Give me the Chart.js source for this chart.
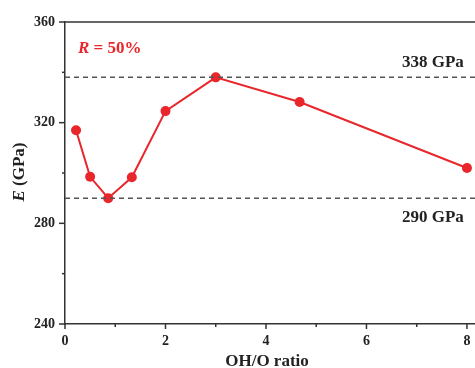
<!DOCTYPE html>
<html>
<head>
<meta charset="utf-8">
<script src="https://cdn.jsdelivr.net/npm/chart.js@4"></script>
<style>
html,body{margin:0;padding:0;background:#fff;}
#wrap{width:475px;height:368px;}
</style>
</head>
<body>
<div id="wrap"><canvas id="c" width="475" height="368"></canvas></div>
<script>
const ratios = [0.22, 0.5, 0.86, 1.33, 2, 3, 4.67, 8];
const modulus = [317, 298.5, 290, 298.3, 324.6, 338, 328.2, 302];
const refValues = [338, 290];
const refLabels = ['338 GPa', '290 GPa'];
const xMin = 0, xMax = 8.16, yMin = 240, yMax = 360;

const RED = '#e8262b';
const AXIS = '#333333';
const FONT = '"Liberation Serif", "Times New Roman", serif';

const mainData = ratios.map((x, i) => ({x: x, y: modulus[i]}));
const refSets = refValues.map(v => ({
  data: [{x: xMin, y: v}, {x: xMax, y: v}],
  borderColor: '#555555',
  borderWidth: 1.5,
  borderDash: [5, 4],
  pointRadius: 0,
  fill: false
}));

const decor = {
  id: 'decor',
  afterDraw(chart) {
    const ctx = chart.ctx;
    const a = chart.chartArea;
    const xs = chart.scales.x, ys = chart.scales.y;
    ctx.save();
    ctx.strokeStyle = AXIS;
    ctx.lineWidth = 1.5;
    // top frame
    ctx.beginPath();
    ctx.moveTo(a.left, a.top);
    ctx.lineTo(chart.width, a.top);
    ctx.stroke();
    // x ticks
    xs.ticks.forEach(t => {
      const px = xs.getPixelForValue(t.value);
      const len = (Math.round(t.value) % 2 === 0) ? 5 : 3;
      ctx.beginPath();
      ctx.moveTo(px, a.bottom);
      ctx.lineTo(px, a.bottom + len);
      ctx.stroke();
    });
    // y ticks
    ys.ticks.forEach(t => {
      const py = ys.getPixelForValue(t.value);
      const len = (Math.round(t.value) % 40 === 0) ? 6 : 3;
      ctx.beginPath();
      ctx.moveTo(a.left - len, py);
      ctx.lineTo(a.left, py);
      ctx.stroke();
    });
    // reference labels
    ctx.fillStyle = '#222';
    ctx.font = 'bold 17px ' + FONT;
    ctx.textAlign = 'left';
    ctx.textBaseline = 'alphabetic';
    ctx.fillText(refLabels[0], 402, ys.getPixelForValue(refValues[0]) - 10);
    ctx.fillText(refLabels[1], 402, ys.getPixelForValue(refValues[1]) + 24);
    // R = 50%
    ctx.fillStyle = RED;
    ctx.font = 'italic bold 17px ' + FONT;
    ctx.fillText('R', 78, 53);
    let w = ctx.measureText('R').width;
    ctx.font = 'bold 17px ' + FONT;
    ctx.fillText(' = 50%', 78 + w, 53);
    // x title
    ctx.fillStyle = '#222';
    ctx.textAlign = 'center';
    ctx.font = 'bold 17px ' + FONT;
    ctx.fillText('OH/O ratio', 267, 366);
    // y title
    ctx.translate(24, 172);
    ctx.rotate(-Math.PI / 2);
    ctx.textAlign = 'left';
    ctx.font = 'italic bold 17px ' + FONT;
    const e = 'E';
    const we = ctx.measureText(e).width;
    ctx.font = 'bold 17px ' + FONT;
    const rest = ' (GPa)';
    const wr = ctx.measureText(rest).width;
    const start = -(we + wr) / 2;
    ctx.font = 'italic bold 17px ' + FONT;
    ctx.fillText(e, start, 0);
    ctx.font = 'bold 17px ' + FONT;
    ctx.fillText(rest, start + we, 0);
    ctx.restore();
  }
};

new Chart(document.getElementById('c'), {
  type: 'line',
  data: {
    datasets: [
      ...refSets,
      {
        data: mainData,
        borderColor: RED,
        backgroundColor: RED,
        borderWidth: 2,
        pointRadius: 5,
        pointBorderWidth: 0,
        pointBackgroundColor: RED,
        fill: false,
        tension: 0
      }
    ]
  },
  options: {
    responsive: false,
    animation: false,
    devicePixelRatio: 1,
    layout: {autoPadding: false, padding: {top: 22, right: 0, left: 0, bottom: 0}},
    plugins: {legend: {display: false}, tooltip: {enabled: false}},
    scales: {
      x: {
        type: 'linear',
        min: xMin, max: xMax,
        afterFit(s) { s.height = 44; s.paddingRight = 0; s.paddingLeft = 0; },
        grid: {drawOnChartArea: false, drawTicks: false},
        border: {display: true, color: AXIS, width: 1.5},
        ticks: {
          stepSize: 1,
          includeBounds: false,
          autoSkip: false,
          maxRotation: 0,
          padding: 9,
          color: '#222',
          font: {family: FONT, size: 14, weight: 'bold'},
          callback: v => (Math.round(v) % 2 === 0 ? String(v) : '')
        }
      },
      y: {
        min: yMin, max: yMax,
        afterFit(s) { s.width = 65; s.paddingTop = 0; s.paddingBottom = 0; },
        grid: {drawOnChartArea: false, drawTicks: false},
        border: {display: true, color: AXIS, width: 1.5},
        ticks: {
          stepSize: 20,
          includeBounds: false,
          autoSkip: false,
          padding: 10,
          color: '#222',
          font: {family: FONT, size: 14, weight: 'bold'},
          callback: v => (Math.round(v) % 40 === 0 ? String(v) : '')
        }
      }
    }
  },
  plugins: [decor]
});
</script>
</body>
</html>
